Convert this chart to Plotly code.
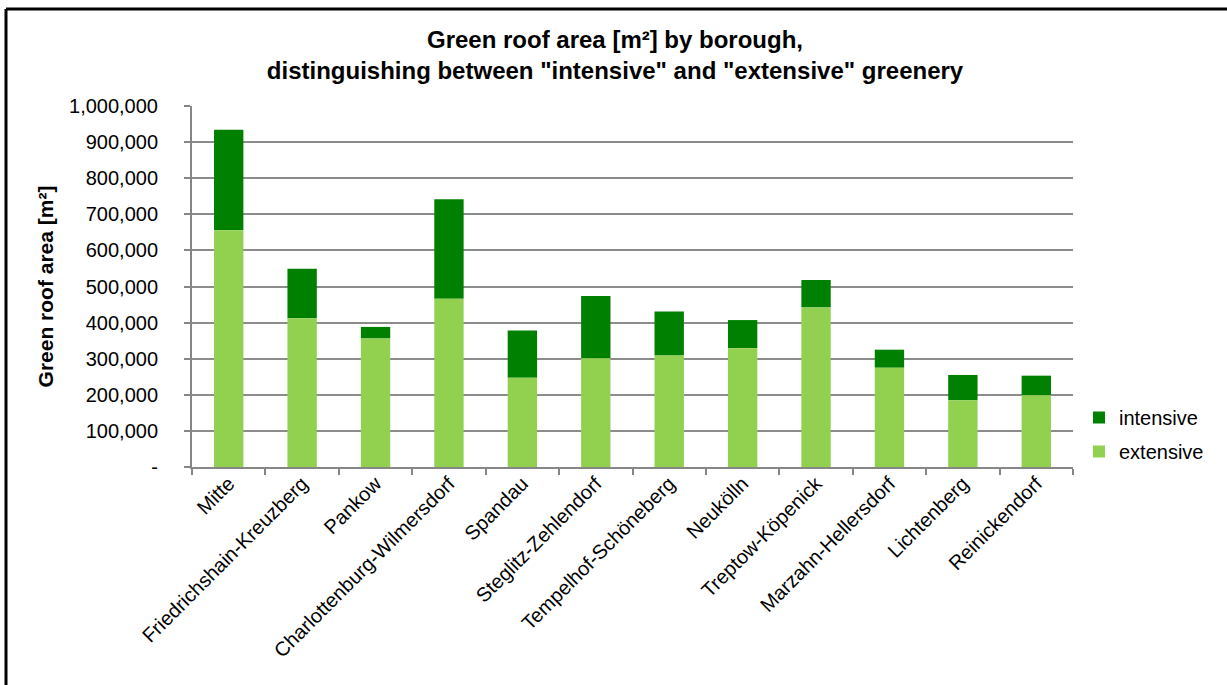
import plotly.graph_objects as go

boroughs = [
    "Mitte", "Friedrichshain-Kreuzberg", "Pankow", "Charlottenburg-Wilmersdorf",
    "Spandau", "Steglitz-Zehlendorf", "Tempelhof-Schöneberg", "Neukölln",
    "Treptow-Köpenick", "Marzahn-Hellersdorf", "Lichtenberg", "Reinickendorf",
]
extensive = [656000, 412000, 356000, 466000, 247000, 301000, 309000, 329000,
             442000, 275000, 185000, 199000]
intensive = [278000, 137000, 32000, 276000, 131000, 173000, 122000, 78000,
             76000, 50000, 70000, 54000]

y_ticks = [0, 100000, 200000, 300000, 400000, 500000, 600000, 700000, 800000,
           900000, 1000000]
y_tick_text = ["-"] + [f"{v:,}" for v in y_ticks[1:]]

W, H = 1227, 685
L, R, T, B = 192, 154, 106, 218
pw, ph = W - L - R, H - T - B

def px_x(x):
    return (x - L) / pw

def px_y(y):
    return (H - B - y) / ph

FONT = "Liberation Sans, Arial, sans-serif"

fig = go.Figure()
fig.add_trace(go.Bar(x=boroughs, y=intensive, name="intensive", base=extensive,
                     marker=dict(color="#008000", line=dict(width=0)),
                     legendgroup="int"))
fig.add_trace(go.Bar(x=boroughs, y=extensive, name="extensive",
                     marker=dict(color="#92D050", line=dict(width=0)),
                     legendgroup="ext"))

fig.update_layout(
    width=W, height=H,
    margin=dict(l=L, r=R, t=T, b=B, autoexpand=False),
    barmode="overlay", bargap=0.6,
    paper_bgcolor="white", plot_bgcolor="white",
    font=dict(family=FONT, size=20, color="#000000"),
    title=dict(
        text="Green roof area [m²] by borough,<br>distinguishing between \"intensive\" and \"extensive\" greenery",
        font=dict(family=FONT, size=24, color="#000000", weight="bold"),
        x=px_x(615), xref="paper", xanchor="center",
        y=1 - 48 / H, yref="container", yanchor="middle",
    ),
    legend=dict(
        x=px_x(1079), y=px_y(398), xanchor="left", yanchor="top",
        traceorder="grouped", tracegroupgap=5,
        font=dict(family=FONT, size=20), bgcolor="rgba(0,0,0,0)",
    ),
    xaxis=dict(
        tickangle=-45, ticks="outside", ticklen=6, tickcolor="#868686",
        tickwidth=1.5, tickson="boundaries", ticklabelstandoff=-5,
        showline=True, linecolor="#868686", linewidth=2,
        tickfont=dict(family=FONT, size=20),
    ),
    yaxis=dict(
        range=[0, 1000000], tickvals=y_ticks, ticktext=y_tick_text,
        ticks="outside", ticklen=6, tickcolor="#868686", tickwidth=1.5,
        ticklabelstandoff=22,
        showgrid=True, gridcolor="#8c8c8c", gridwidth=1.5,
        showline=True, linecolor="#868686", linewidth=2,
        zeroline=False,
        tickfont=dict(family=FONT, size=20),
        title=dict(text="Green roof area [m²]", standoff=10,
                   font=dict(family=FONT, size=21, weight="bold")),
    ),
    shapes=[
        dict(type="line", xref="paper", yref="paper",
             x0=px_x(6), x1=px_x(W + 5), y0=px_y(9), y1=px_y(9),
             line=dict(color="black", width=3)),
        dict(type="line", xref="paper", yref="paper",
             x0=px_x(6), x1=px_x(6), y0=px_y(9), y1=px_y(H + 5),
             line=dict(color="black", width=3)),
    ],
)

fig.write_html("out.html")
